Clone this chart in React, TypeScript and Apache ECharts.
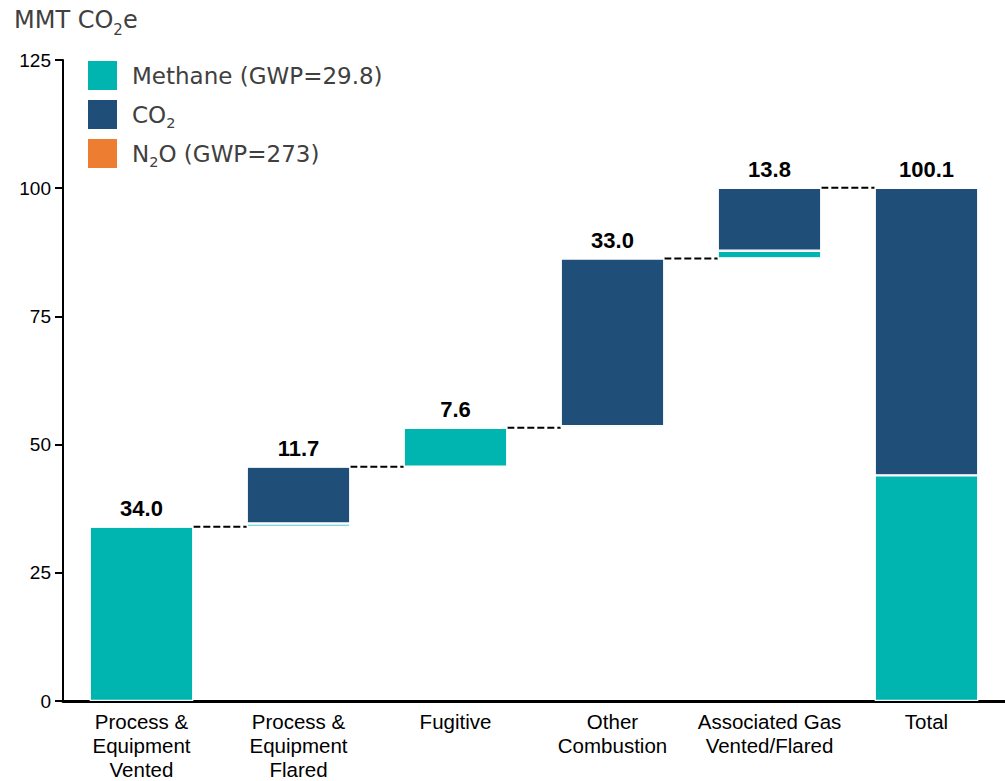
import React, { useEffect, useRef } from "react";
import * as echarts from "echarts";

const categories = [
  "Process &\nEquipment\nVented",
  "Process &\nEquipment\nFlared",
  "Fugitive",
  "Other\nCombustion",
  "Associated Gas\nVented/Flared",
  "Total",
];
const methane = [34.0, 0.6, 7.6, 0.3, 1.5, 44.0];
const co2 = [0, 11.1, 0, 32.7, 12.3, 56.1];
const n2o = [0, 0, 0, 0, 0, 0];
const totals = [34.0, 11.7, 7.6, 33.0, 13.8, 100.1];
const yTicks = [0, 25, 50, 75, 100, 125];

const TEAL = "#00B5AF";
const NAVY = "#1F4E79";
const ORANGE = "#ED7D31";
const GREY_TXT = "#404040";
const TXT_FONT = "DejaVu Sans";

export default function App() {
  const ref = useRef<HTMLDivElement>(null);
  useEffect(() => {
    if (!ref.current) return;
    const chart = echarts.init(ref.current, null, { renderer: "svg" });
    const n = categories.length;
    const base: number[] = [];
    let cum = 0;
    for (let i = 0; i < n; i++) {
      if (i === n - 1) base.push(0);
      else {
        base.push(Math.round(cum * 10) / 10);
        cum += totals[i];
      }
    }
    const tops = totals.map((t, i) => Math.round((base[i] + t) * 10) / 10);
    const connectorData = tops.slice(0, n - 1).map((v, i) => [i, v]);
    const labelData = tops.map((v, i) => [i, v, totals[i]]);
    const barFrac = 0.66;

    const richTitle = {
      a: { fontSize: 24, fontFamily: TXT_FONT, fill: GREY_TXT, color: GREY_TXT, lineHeight: 34, verticalAlign: "middle" },
      s: { fontSize: 15, fontFamily: TXT_FONT, fill: GREY_TXT, color: GREY_TXT, lineHeight: 34, verticalAlign: "bottom" },
    };

    const option: any = {
      animation: false,
      grid: { left: 63, right: 0, top: 60, bottom: 75, containLabel: false },
      graphic: [
        {
          type: "text",
          left: 14,
          top: 8,
          style: {
            text: "{a|MMT CO}{s|2}{a|e}",
            rich: richTitle,
          },
        },
      ],
      legend: {
        orient: "vertical",
        left: 81,
        top: 54,
        itemWidth: 31,
        itemHeight: 31,
        itemGap: 6,
        icon: "rect",
        data: ["Methane", "CO2", "N2O"],
        formatter: (name: string) => {
          if (name === "Methane") return "{a|Methane (GWP=29.8)}";
          if (name === "CO2") return "{a|CO}{s|2}";
          return "{a|N}{s|2}{a|O (GWP=273)}";
        },
        textStyle: {
          padding: [0, 0, 0, 9],
          rich: {
            a: { fontSize: 23, fontFamily: TXT_FONT, color: GREY_TXT, lineHeight: 32, verticalAlign: "middle" },
            s: { fontSize: 14.5, fontFamily: TXT_FONT, color: GREY_TXT, lineHeight: 32, verticalAlign: "bottom" },
          },
        },
      },
      xAxis: {
        type: "category",
        data: categories,
        axisLine: { lineStyle: { color: "#000", width: 3 } },
        axisTick: { show: false },
        axisLabel: {
          color: "#000",
          fontSize: 20.5,
          fontFamily: "Liberation Sans",
          lineHeight: 24,
          margin: 8,
          interval: 0,
        },
      },
      yAxis: {
        type: "value",
        min: 0,
        max: 125,
        interval: 25,
        splitLine: { show: false },
        axisLine: { show: true, lineStyle: { color: "#000", width: 2 } },
        axisTick: { show: true, length: 8, lineStyle: { color: "#000", width: 2 } },
        axisLabel: {
          color: "#000",
          fontSize: 19,
          fontFamily: "Liberation Sans",
          margin: 12,
          formatter: (v: number) => (yTicks.includes(v) ? String(v) : ""),
        },
      },
      series: [
        {
          name: "base",
          type: "bar",
          stack: "w",
          data: base,
          itemStyle: { color: "transparent" },
          barCategoryGap: "34%",
          silent: true,
        },
        {
          name: "Methane",
          type: "bar",
          stack: "w",
          data: methane,
          itemStyle: { color: TEAL, borderColor: "#fff", borderWidth: 1.2 },
        },
        {
          name: "CO2",
          type: "bar",
          stack: "w",
          data: co2,
          itemStyle: { color: NAVY, borderColor: "#fff", borderWidth: 1.2 },
        },
        {
          name: "N2O",
          type: "bar",
          stack: "w",
          data: n2o,
          itemStyle: { color: ORANGE, borderColor: "#fff", borderWidth: 1.2 },
        },
        {
          name: "connectors",
          type: "custom",
          data: connectorData,
          silent: true,
          renderItem: (params: any, api: any) => {
            const i = api.value(0);
            const v = api.value(1);
            const p = api.coord([i, v]);
            const band = api.size([1, 0])[0];
            const half = (band * barFrac) / 2;
            return {
              type: "line",
              shape: { x1: p[0] + half, y1: p[1], x2: p[0] + band - half, y2: p[1] },
              style: { stroke: "#000", lineWidth: 2, lineDash: [7, 3] },
            };
          },
        },
        {
          name: "labels",
          type: "custom",
          data: labelData,
          silent: true,
          renderItem: (params: any, api: any) => {
            const i = api.value(0);
            const v = api.value(1);
            const t = api.value(2);
            const p = api.coord([i, v]);
            return {
              type: "text",
              x: p[0],
              y: p[1] - 7,
              style: {
                text: Number(t).toFixed(1),
                fontSize: 22,
                fontWeight: "bold",
                fontFamily: "Liberation Sans",
                fill: "#000",
                align: "center",
                verticalAlign: "bottom",
              },
            };
          },
        },
      ],
    };
    chart.setOption(option);
    return () => chart.dispose();
  }, []);
  return <div ref={ref} style={{ width: 1005, height: 781, position: "absolute", left: 0, top: 0 }} />;
}
